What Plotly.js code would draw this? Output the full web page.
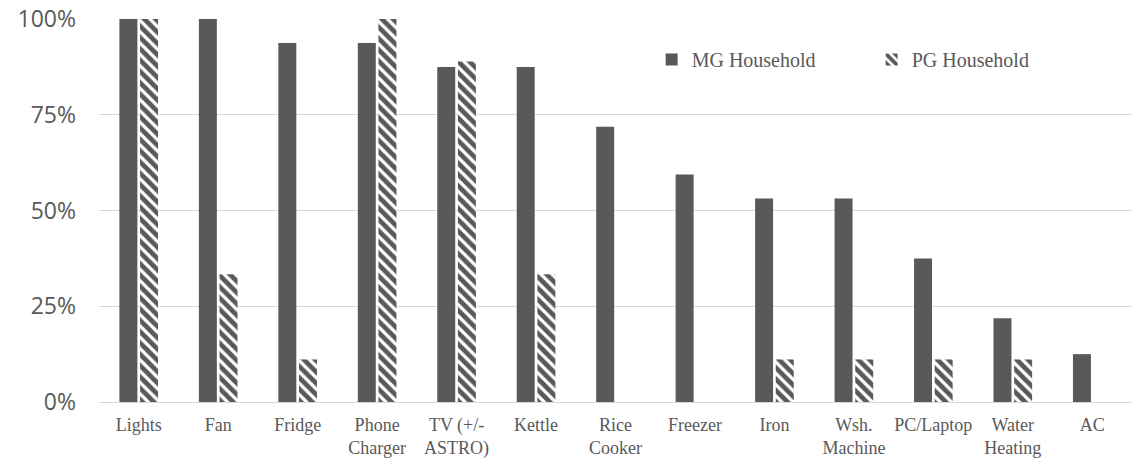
<!DOCTYPE html>
<html>
<head>
<meta charset="utf-8">
<script src="https://cdn.plot.ly/plotly-3.0.1.min.js"></script>
<style>
  html, body { margin: 0; padding: 0; background: #ffffff; }
  #chart { width: 1138px; height: 463px; }
</style>
</head>
<body>
<div id="chart"></div>
<script>
// Appliance ownership share by household type
const appliances = [
  'Lights', 'Fan', 'Fridge', 'Phone<br>Charger', 'TV (+/-<br>ASTRO)', 'Kettle',
  'Rice<br>Cooker', 'Freezer', 'Iron', 'Wsh.<br>Machine', 'PC/Laptop',
  'Water<br>Heating', 'AC'
];
const mgShare = [1.0, 1.0, 0.9375, 0.9375, 0.875, 0.875, 0.71875, 0.59375, 0.53125, 0.53125, 0.375, 0.21875, 0.125];
const pgShare = [1.0, 0.3333, 0.1111, 1.0, 0.8889, 0.3333, 0, 0, 0.1111, 0.1111, 0.1111, 0.1111, 0];
const yTickValues = [0, 0.25, 0.5, 0.75, 1.0];
const yTickLabels = ['0%', '25%', '50%', '75%', '100%'];

const barGrey = '#595959';

const traces = [
  {
    type: 'bar',
    name: 'MG Household',
    x: appliances,
    y: mgShare,
    marker: { color: barGrey, line: { width: 0 } },
    hoverinfo: 'skip'
  },
  {
    type: 'bar',
    name: 'PG Household',
    x: appliances,
    y: pgShare,
    marker: {
      color: '#ffffff',
      line: { width: 0 },
      pattern: { shape: '\\', fgcolor: barGrey, fgopacity: 1, bgcolor: '#ffffff', size: 8, solidity: 0.6, fillmode: 'overlay' }
    },
    hoverinfo: 'skip'
  }
];

const layout = {
  width: 1138,
  height: 463,
  margin: { l: 99, r: 6, t: 19, b: 61 },
  paper_bgcolor: '#ffffff',
  plot_bgcolor: '#ffffff',
  barmode: 'group',
  bargap: 0.48,
  bargroupgap: 0.13,
  showlegend: true,
  legend: {
    orientation: 'h',
    x: 0.535,
    xanchor: 'left',
    y: 0.945,
    yanchor: 'top',
    bgcolor: 'rgba(0,0,0,0)',
    font: { family: '"Liberation Serif", "Times New Roman", serif', size: 20, color: '#595959' },
    entrywidth: 175,
    itemwidth: 30
  },
  xaxis: {
    type: 'category',
    showgrid: false,
    showline: true,
    linecolor: '#d9d9d9',
    linewidth: 1,
    ticks: '',
    tickangle: 0,
    ticklabelstandoff: 6,
    tickfont: { family: '"Liberation Serif", "Times New Roman", serif', size: 18, color: '#595959' },
    fixedrange: true
  },
  yaxis: {
    range: [0, 1.0],
    tickvals: yTickValues,
    ticktext: yTickLabels,
    showgrid: true,
    gridcolor: '#d9d9d9',
    gridwidth: 1,
    zeroline: false,
    showline: false,
    ticks: '',
    ticklabelstandoff: 22,
    tickfont: { family: '"Open Sans", sans-serif', size: 23, color: '#595959' },
    fixedrange: true
  }
};

Plotly.newPlot('chart', traces, layout, { staticPlot: true, displayModeBar: false });
</script>
</body>
</html>
